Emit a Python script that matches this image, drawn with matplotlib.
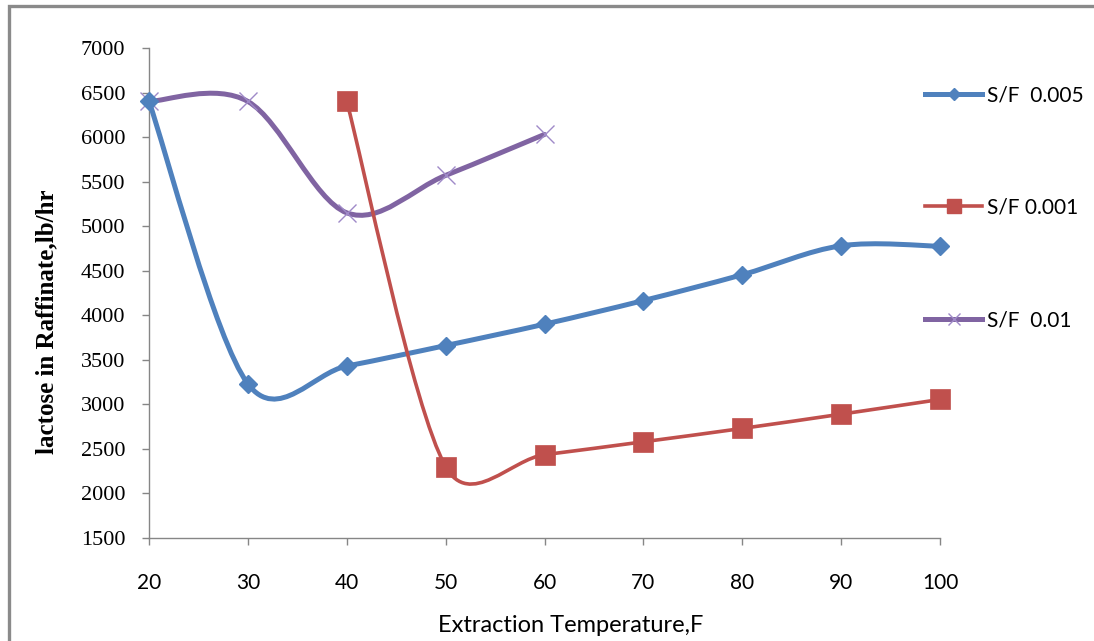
import numpy as np
import matplotlib
matplotlib.use("Agg")
import matplotlib.pyplot as plt
from matplotlib.path import Path
from matplotlib.patches import PathPatch, Rectangle
from matplotlib.lines import Line2D

# Lactose remaining in raffinate vs. extraction temperature
temps_005 = [20, 30, 40, 50, 60, 70, 80, 90, 100]
lactose_005 = [6400, 3230, 3430, 3660, 3900, 4165, 4455, 4780, 4775]

temps_001 = [40, 50, 60, 70, 80, 90, 100]
lactose_001 = [6400, 2300, 2435, 2580, 2730, 2890, 3055]

temps_01 = [20, 30, 40, 50, 60]
lactose_01 = [6400, 6400, 5150, 5570, 6030]

series_labels = ["S/F  0.005", "S/F 0.001", "S/F  0.01"]
x_ticks = list(range(20, 101, 10))
y_ticks = list(range(1500, 7001, 500))

BLUE = "#4F81BD"
RED = "#C0504D"
PURPLE = "#8064A2"
PURPLE_X = "#9F8AC8"
AXIS_GREY = "#868686"
SANS = ["Lato", "DejaVu Sans"]
SERIF = ["Liberation Serif", "DejaVu Serif"]

W, H = 1094, 641
fig = plt.figure(figsize=(W / 100, H / 100), dpi=100)
fig.patch.set_facecolor("white")

# outer chart frame
fig.patches.append(Rectangle((9 / W, -0.05), 1.2, 1 - 6 / H + 0.05,
                             transform=fig.transFigure, fill=False,
                             edgecolor="#8A8A8A", linewidth=2.4))

ax = fig.add_axes([149 / W, (H - 538) / H, (940 - 149) / W, 490 / H])
ax.set_xlim(20, 100)
ax.set_ylim(1500, 7000)

for side in ("top", "right"):
    ax.spines[side].set_visible(False)
for side in ("left", "bottom"):
    ax.spines[side].set_color(AXIS_GREY)
    ax.spines[side].set_linewidth(1.0)

ax.set_xticks(x_ticks)
ax.set_yticks(y_ticks)
ax.tick_params(axis="both", direction="out", length=5, color=AXIS_GREY, width=1)
ax.tick_params(axis="y", pad=12)
ax.tick_params(axis="x", pad=20)
for lab in ax.get_yticklabels():
    lab.set_family(SERIF)
    lab.set_fontsize(16)
for lab in ax.get_xticklabels():
    lab.set_family(SANS)
    lab.set_fontsize(15)


def smooth_path(xs, ys):
    """Bezier smoothing (Catmull-Rom style, offsets capped per segment) in screen space."""
    pts = ax.transData.transform(np.column_stack([xs, ys]))
    n = len(pts)
    verts = [pts[0]]
    codes = [Path.MOVETO]
    for i in range(n - 1):
        p0 = pts[i - 1] if i > 0 else pts[i]
        p1 = pts[i]
        p2 = pts[i + 1]
        p3 = pts[i + 2] if i + 2 < n else pts[i + 1]
        seg = np.hypot(*(p2 - p1))
        t1 = (p2 - p0) / 6.0
        t2 = (p3 - p1) / 6.0
        for t in (t1, t2):
            ln = np.hypot(*t)
            if ln > 0.5 * seg:
                t *= 0.5 * seg / ln
        verts += [p1 + t1, p2 - t2, p2]
        codes += [Path.CURVE4] * 3
    data_verts = ax.transData.inverted().transform(np.array(verts))
    return Path(data_verts, codes)


def draw_series(xs, ys, color, lw, marker, ms, mcolor, mew, z):
    patch = PathPatch(smooth_path(xs, ys), facecolor="none", edgecolor=color,
                      linewidth=lw, capstyle="round", joinstyle="round",
                      zorder=z, clip_on=False)
    ax.add_patch(patch)
    ax.plot(xs, ys, linestyle="none", marker=marker, markersize=ms,
            markerfacecolor=mcolor, markeredgecolor=mcolor,
            markeredgewidth=mew, zorder=z + 0.5, clip_on=False)


draw_series(temps_01, lactose_01, PURPLE, 3.6, "x", 13, PURPLE_X, 1.0, 3)
draw_series(temps_005, lactose_005, BLUE, 3.6, "D", 9, BLUE, 1.0, 4)
draw_series(temps_001, lactose_001, RED, 2.6, "s", 14, RED, 0.5, 5)

handles = [
    Line2D([], [], color=BLUE, lw=3.6, marker="D", markersize=6,
           markerfacecolor=BLUE, markeredgecolor=BLUE),
    Line2D([], [], color=RED, lw=2.6, marker="s", markersize=9.5,
           markerfacecolor=RED, markeredgecolor=RED),
    Line2D([], [], color=PURPLE, lw=3.6, marker="x", markersize=9,
           markerfacecolor=PURPLE_X, markeredgecolor=PURPLE_X, markeredgewidth=1.0),
]
fig.legend(handles, series_labels, loc="upper left",
           bbox_to_anchor=(925 / W, 1 - 85 / H), bbox_transform=fig.transFigure,
           frameon=False, borderpad=0, borderaxespad=0,
           handlelength=2.74, handletextpad=0.25, labelspacing=4.45,
           prop={"family": SANS, "size": 15})

fig.text(571 / W, 1 - 625 / H, "Extraction Temperature,F",
         ha="center", va="center", fontsize=17, family=SANS)
fig.text(47 / W, 1 - 322 / H, "lactose in Raffinate,lb/hr",
         ha="center", va="center", rotation=90, fontsize=18,
         fontweight="bold", family=SERIF)

fig.savefig("out.png", dpi=100, facecolor="white")
